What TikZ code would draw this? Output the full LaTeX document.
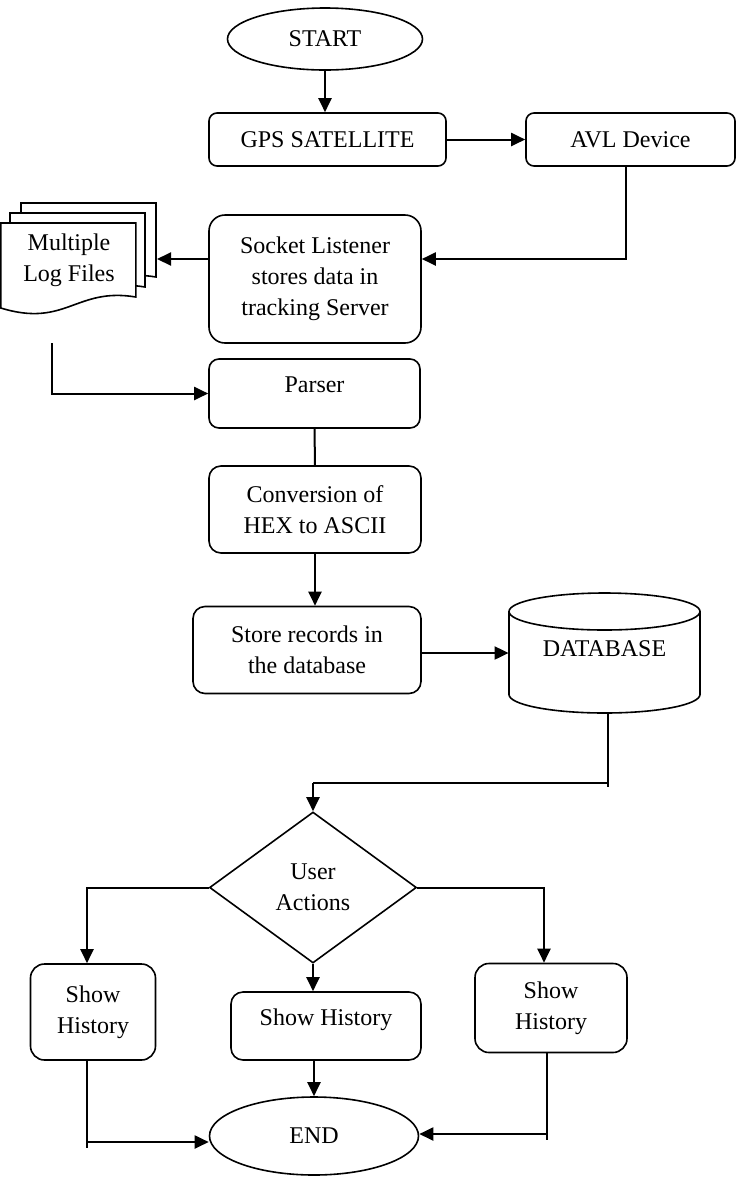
\documentclass[tikz,border=0pt]{standalone}
\usepackage{fontspec}
\setmainfont{Liberation Serif}
\usetikzlibrary{positioning}
\usetikzlibrary{arrows.meta}
\usetikzlibrary{shapes.geometric}
\colorlet{edgec}{black}

\tikzset{
  procbox/.style={draw=edgec, line width=0.8pt, shape=rectangle, rounded corners=4pt, align=center, inner sep=2pt},
  termnode/.style={draw=edgec, line width=0.8pt, shape=ellipse, inner sep=0pt},
  flowarr/.style={draw=edgec, line width=1pt, -{Triangle[length=7pt,width=6.5pt]}},
  thickwire/.style={draw=edgec, line width=1pt},
  thinwire/.style={draw=edgec, line width=0.6pt},
  raisedtext/.style={text depth=8.5pt}
}

\begin{document}
\begin{tikzpicture}[x=0.5pt, y=-0.5pt, font=\fontsize{12}{15.5}\selectfont]
\useasboundingbox (0,0) rectangle (736,1180);

% top row
\node[termnode, minimum width=97.5pt, minimum height=31pt] (start) at (325,39) {START};
\node[procbox, minimum width=118.5pt, minimum height=26.5pt] (gps) at (327.5,139.5) {GPS SATELLITE};
\node[procbox, minimum width=104.5pt, minimum height=26.5pt] (avl) at (630.5,139.5) {AVL Device};

% server and log files
\node[procbox, rounded corners=8pt, minimum width=106pt, minimum height=64pt] (socket) at (315,279)
{Socket Listener\\stores data in\\tracking Server};
\filldraw[fill=white, line width=0.8pt] (21,203) -- ++(135,0) -- ++(0,74) .. controls ++(-60,-10) and ++(65,20) .. ++(-135,11) -- cycle;
\filldraw[fill=white, line width=0.8pt] (10,213) -- ++(135,0) -- ++(0,74) .. controls ++(-60,-10) and ++(65,20) .. ++(-135,11) -- cycle;
\filldraw[fill=white, line width=0.8pt] (0.8,223) -- ++(135,0) -- ++(0,74) .. controls ++(-60,-10) and ++(65,20) .. ++(-135,11) -- cycle;
\node[align=center, inner sep=0pt] (logs) at (69,260) {Multiple\\Log Files};
\coordinate (logsin) at (157,259);
\coordinate (logsout) at (52,343);

% processing chain
\node[procbox, rounded corners=5pt, raisedtext, minimum width=105.5pt, minimum height=34.5pt] (parser) at (314.5,393.5) {Parser};
\node[procbox, rounded corners=6pt, minimum width=106pt, minimum height=43.5pt] (conv) at (315,509.5) {Conversion of\\HEX to ASCII};
\node[procbox, rounded corners=6pt, minimum width=114pt, minimum height=43.5pt] (store) at (307,650) {Store records in\\the database};

% database cylinder
\node[minimum width=95.5pt, minimum height=60pt, inner sep=0pt] (db) at (604.5,653) {};
\draw[line width=0.8pt] (604.5,611.5) ellipse [x radius=47.75pt, y radius=9.25pt];
\draw[line width=0.8pt] (509,611.5) -- (509,694.5) arc[start angle=180, end angle=360, x radius=47.75pt, y radius=9.25pt] -- (700,611.5);
\node at (604.5,649) {DATABASE};

% decision and results
\node[draw=edgec, line width=0.8pt, shape=diamond, inner sep=0pt, align=center, minimum width=103.5pt, minimum height=75.5pt] (act) at (313,887.5) {User\\Actions};
\node[procbox, rounded corners=7pt, minimum width=62.5pt, minimum height=48pt] (hleft) at (93,1012) {Show\\History};
\node[procbox, rounded corners=6pt, raisedtext, minimum width=95pt, minimum height=34pt] (hmid) at (326,1026) {Show History};
\node[procbox, rounded corners=7pt, minimum width=76pt, minimum height=44.5pt] (hright) at (551,1008) {Show\\History};
\node[termnode, minimum width=104.5pt, minimum height=39pt] (end) at (314,1136) {END};
\coordinate (dbturn) at (608,783);
\coordinate (hlturn) at (87,1142);
\coordinate (hrturn) at (547,1134);

% connectors
\draw[flowarr] (start.south) -- (start.south |- gps.north);
\draw[flowarr] (gps.east) -- (avl.west);
\draw[flowarr] ([xshift=-2.5pt]avl.south) |- ([yshift=10pt]socket.east);
\draw[flowarr] ([yshift=10pt]socket.west) -- (logsin);
\draw[flowarr] (logsout) |- (parser.west);
\draw[thickwire] (parser.south) -- (conv.north);
\draw[flowarr] (conv.south) -- (conv.south |- store.north);
\draw[flowarr] (store.east |- db.west) -- (db.west);
\draw[thinwire] ([xshift=1.75pt]db.south) -- ([yshift=-2pt]dbturn);
\draw[thinwire] (dbturn) -- (dbturn -| act.north);
\draw[flowarr] (dbturn -| act.north) -- (act.north);
\draw[flowarr] (act.west) -| ([xshift=-3pt]hleft.north);
\draw[flowarr] (act.south) -- (act.south |- hmid.north);
\draw[flowarr] (act.east) -| ([xshift=-3.5pt]hright.north);
\draw[flowarr] (hmid.south -| end.north) -- (end.north);
\draw[thinwire] (hleft.south -| hlturn) -- ([yshift=-3pt]hlturn);
\draw[flowarr] (hlturn) -- (hlturn -| end.west);
\draw[thinwire] (hright.south -| hrturn) -- ([yshift=-3pt]hrturn);
\draw[flowarr] (hrturn) -- (hrturn -| end.east);

\end{tikzpicture}
\end{document}
